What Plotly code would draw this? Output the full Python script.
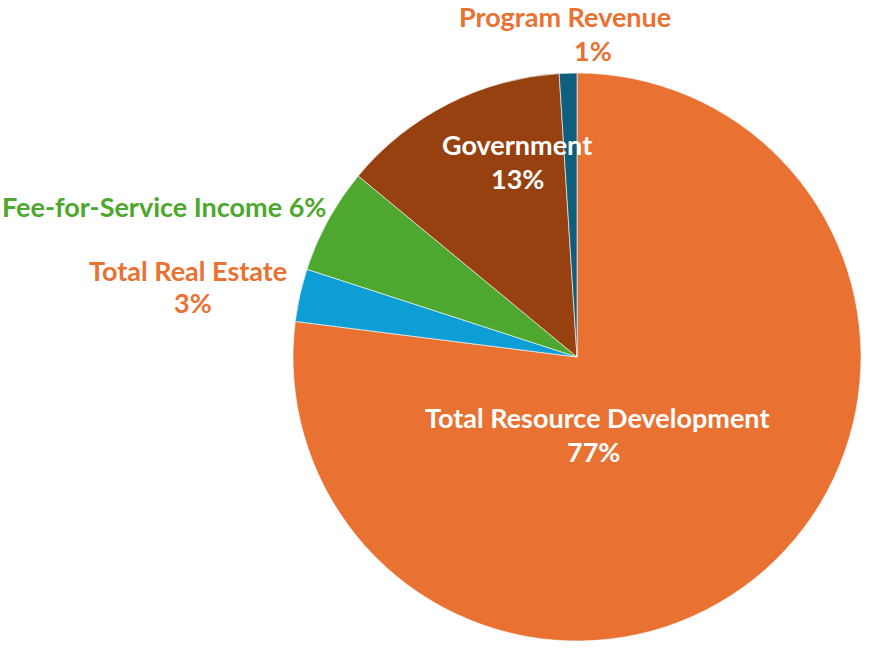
import plotly.graph_objects as go

labels = ["Total Resource Development", "Total Real Estate", "Fee-for-Service Income", "Government", "Program Revenue"]
values = [77, 3, 6, 13, 1]
colors = ["#E97132", "#0E9ED6", "#4EA72E", "#984110", "#0E5E7E"]
label_colors = ["#FFFFFF", "#E97132", "#4EA72E", "#FFFFFF", "#E97132"]

W, H = 876, 657
cx, cy, r = 577, 357, 284

fig = go.Figure(go.Pie(
    labels=labels, values=values, sort=False, direction="clockwise", rotation=0,
    marker=dict(colors=colors, line=dict(color="rgba(255,255,255,0.6)", width=1)),
    textinfo="none", hoverinfo="label+percent", showlegend=False,
    domain=dict(x=[(cx - r) / W, (cx + r) / W], y=[(H - cy - r) / H, (H - cy + r) / H]),
))

font_family = "Lato, 'Open Sans', sans-serif"
fs = 27
pos = [
    (597, 417, 593, 451, False),
    (188, 270, 193, 302, False),
    (164, 207, None, None, True),
    (517, 144, 517, 178, False),
    (565, 16, 593, 50, False),
]
annotations = []

def ann(x, y, text, color):
    return dict(x=x / W, y=1 - y / H, xref="paper", yref="paper",
                text=text, showarrow=False, borderpad=0,
                font=dict(family=font_family, size=fs, color=color),
                xanchor="center", yanchor="middle")

for lab, v, lc, p in zip(labels, values, label_colors, pos):
    nx, ny, px, py, single = p
    if single:
        annotations.append(ann(nx, ny, f"<b>{lab} {v}%</b>", lc))
    else:
        annotations.append(ann(nx, ny, f"<b>{lab}</b>", lc))
        annotations.append(ann(px, py, f"<b>{v}%</b>", lc))

fig.update_layout(width=W, height=H, margin=dict(l=0, r=0, t=0, b=0),
                  paper_bgcolor="white", plot_bgcolor="white", annotations=annotations)
fig.write_html("out.html", config={"displayModeBar": False},
               post_script="document.body.style.margin='0';document.body.style.overflow='hidden';")
